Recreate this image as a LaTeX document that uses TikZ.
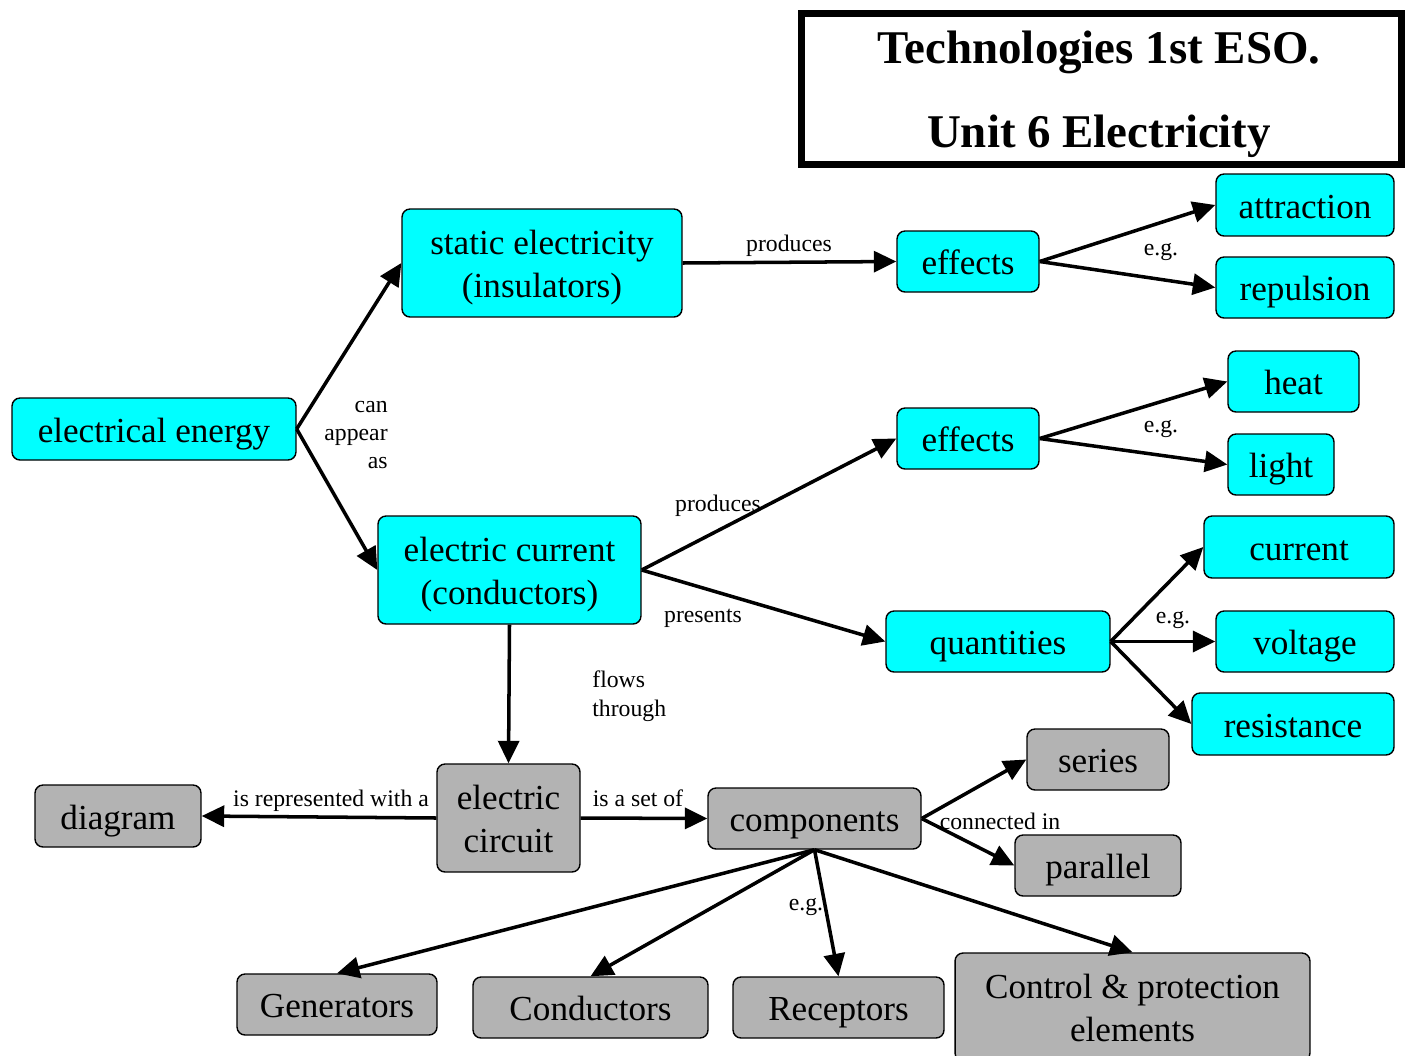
\documentclass[tikz,border=0pt]{standalone}
\usepackage{fontspec}
\setmainfont{Liberation Serif}
\usetikzlibrary{arrows.meta}
\definecolor{mapcyan}{RGB}{0,255,255}
\definecolor{mapgrey}{RGB}{179,179,179}
\newcommand{\topstrut}{\rule{0pt}{19.3pt}}
\newcommand{\botstrut}{\rule[-4.5pt]{0pt}{4.5pt}}
\begin{document}
\begin{tikzpicture}[x=0.02cm, y=-0.02cm,
	concept/.style={draw, rounded corners=0.16cm, line width=0.8pt, inner sep=0pt, align=center, font=\fontsize{20}{24}\selectfont},
	cyanbox/.style={concept, fill=mapcyan},
	greybox/.style={concept, fill=mapgrey},
	linklabel/.style={inner sep=0pt, yshift=-0.04cm, font=\fontsize{13.5}{16.2}\selectfont},
	link/.style={-{Triangle[length=0.45cm, width=0.42cm]}, line width=2pt}]
	\useasboundingbox (0,0) rectangle (1409,1055);

	% title
	\node[draw, line width=4pt, minimum width=12cm, minimum height=3.02cm] (frame) at (1101.5,89) {};
	\node[align=center, inner sep=0pt, font=\bfseries\fontsize{26.7}{47.8}\selectfont] (title) at (1099,94) {Technologies 1st ESO.\\Unit 6 Electricity};

	% cyan concepts
	\node[cyanbox, minimum width=5.68cm, minimum height=1.24cm] (energy) at (154,429) {\topstrut electrical energy\botstrut};
	\node[cyanbox, minimum width=5.6cm, minimum height=2.16cm] (static) at (542,263) {\topstrut static electricity\\(insulators)\botstrut};
	\node[cyanbox, minimum width=5.26cm, minimum height=2.16cm] (flow) at (509.5,570) {\topstrut electric current\\(conductors)\botstrut};
	\node[cyanbox, minimum width=2.84cm, minimum height=1.22cm] (effA) at (968,261.5) {\topstrut effects\botstrut};
	\node[cyanbox, minimum width=3.56cm, minimum height=1.24cm] (attract) at (1305,205) {\topstrut attraction\botstrut};
	\node[cyanbox, minimum width=3.56cm, minimum height=1.22cm] (repel) at (1305,287.5) {\topstrut repulsion\botstrut};
	\node[cyanbox, minimum width=2.84cm, minimum height=1.22cm] (effB) at (968,438.5) {\topstrut effects\botstrut};
	\node[cyanbox, minimum width=2.62cm, minimum height=1.22cm] (heat) at (1293.5,381.5) {\topstrut heat\botstrut};
	\node[cyanbox, minimum width=2.12cm, minimum height=1.22cm] (light) at (1281,464.5) {\topstrut light\botstrut};
	\node[cyanbox, minimum width=3.8cm, minimum height=1.24cm] (current) at (1299,547) {\topstrut current\botstrut};
	\node[cyanbox, minimum width=4.48cm, minimum height=1.22cm] (quant) at (998,641.5) {\topstrut quantities\botstrut};
	\node[cyanbox, minimum width=3.56cm, minimum height=1.22cm] (volt) at (1305,641.5) {\topstrut voltage\botstrut};
	\node[cyanbox, minimum width=4.04cm, minimum height=1.24cm] (resist) at (1293,724) {\topstrut resistance\botstrut};

	% grey concepts
	\node[greybox, minimum width=2.84cm, minimum height=1.22cm] (series) at (1098,759.5) {\topstrut series\botstrut};
	\node[greybox, minimum width=3.32cm, minimum height=1.22cm] (parallel) at (1098,865.5) {\topstrut parallel\botstrut};
	\node[greybox, minimum width=4.26cm, minimum height=1.22cm] (comp) at (814.5,818.5) {\topstrut components\botstrut};
	\node[greybox, minimum width=2.86cm, minimum height=2.16cm] (circuit) at (508.5,818) {\topstrut electric\\circuit\botstrut};
	\node[greybox, minimum width=3.32cm, minimum height=1.24cm] (diagram) at (118,816) {\topstrut diagram\botstrut};
	\node[greybox, minimum width=4cm, minimum height=1.22cm] (gen) at (337,1004.5) {\topstrut Generators\botstrut};
	\node[greybox, minimum width=4.7cm, minimum height=1.22cm] (cond) at (590.5,1007.5) {\topstrut Conductors\botstrut};
	\node[greybox, minimum width=4.22cm, minimum height=1.22cm] (recep) at (838.5,1007.5) {\topstrut Receptors\botstrut};
	\node[greybox, minimum width=7.1cm, minimum height=2.16cm] (control) at (1132.5,1007) {\topstrut Control \& protection\\elements\botstrut};

	% link words
	\node[linklabel, align=right, anchor=east] (appear) at (388,433) {can\\appear\\as};
	\node[linklabel] (prodA) at (789,244) {produces};
	\node[linklabel] (egA) at (1161,250) {e.g.};
	\node[linklabel] (prodB) at (718,504) {produces};
	\node[linklabel] (presents) at (703,616) {presents};
	\node[linklabel] (egB) at (1161,427) {e.g.};
	\node[linklabel] (egC) at (1173,618) {e.g.};
	\node[linklabel, align=left, anchor=west] (through) at (592,694) {flows\\through};
	\node[linklabel] (represented) at (331,799) {is represented with a};
	\node[linklabel] (setof) at (638,796) {is a set of};
	\node[linklabel] (connected) at (1000,819) {connected in};
	\node[linklabel] (egD) at (806,905) {e.g.};

	\draw[link] (energy.east) to (static.west);
	\draw[link] (energy.east) to (flow.west);
	\draw[link] (static.east) to (effA.west);
	\draw[link] (effA.east) to (attract.west);
	\draw[link] (effA.east) to (repel.west);
	\draw[link] (flow.east) to (effB.west);
	\draw[link] (flow.east) to (quant.west);
	\draw[link] (effB.east) to (heat.west);
	\draw[link] (effB.east) to (light.west);
	\draw[link] (quant.east) to (current.west);
	\draw[link] (quant.east) to (volt.west);
	\draw[link] (quant.east) to (resist.west);
	\draw[link] (flow.south) to (circuit.north);
	\draw[link] (circuit.west) to (diagram.east);
	\draw[link] (circuit.east) to (comp.west);
	\draw[link] (comp.east) to (series.west);
	\draw[link] (comp.east) to (parallel.west);
	\draw[link] (comp.south) to (gen.north);
	\draw[link] (comp.south) to (cond.north);
	\draw[link] (comp.south) to (recep.north);
	\draw[link] (comp.south) to (control.north);
\end{tikzpicture}
\end{document}
